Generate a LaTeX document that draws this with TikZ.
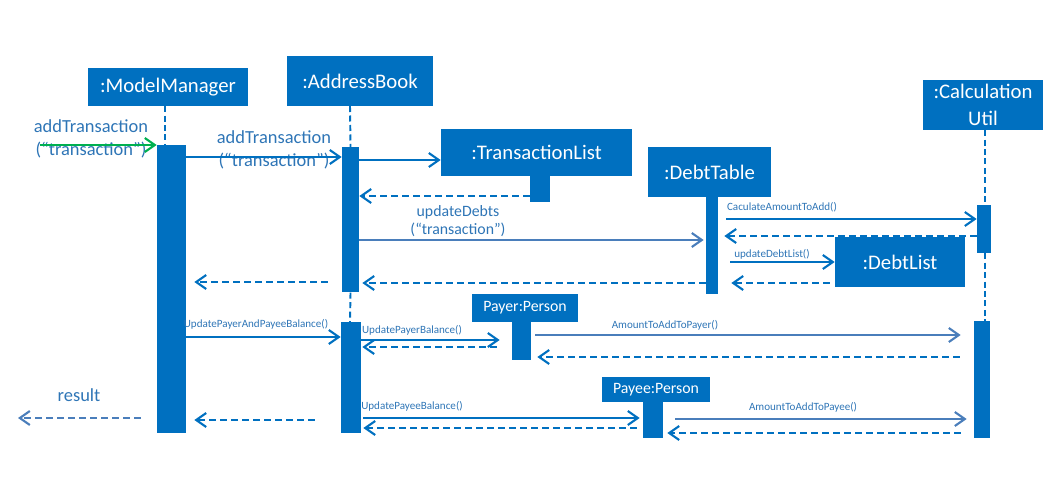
\documentclass[tikz,border=0pt]{standalone}
\usepackage{fontspec}
\setmainfont{Carlito}
\usetikzlibrary{arrows.meta}
\definecolor{boxblue}{RGB}{0,112,192}
\definecolor{txtblue}{RGB}{46,117,182}
\definecolor{lightblue}{RGB}{74,126,187}
\definecolor{callgreen}{RGB}{0,176,80}
\begin{document}
\begin{tikzpicture}[x=0.02cm,y=-0.02cm,
	obj/.style={fill=boxblue,text=white,inner sep=0pt,align=center,
		font=\fontsize{11.8}{15}\selectfont},
	pobj/.style={obj,font=\fontsize{9}{11}\selectfont},
	bar/.style={fill=boxblue,inner sep=0pt,anchor=north},
	life/.style={boxblue,line width=1.1pt,dash pattern=on 1.2mm off 0.7mm},
	call/.style={boxblue,line width=1.2pt,arrows={-{Straight Barb[length=2mm,width=2.8mm]}}},
	lcall/.style={call,lightblue},
	ret/.style={call,dash pattern=on 1.4mm off 0.8mm},
	lret/.style={ret,lightblue},
	msg/.style={text=txtblue,align=center,inner sep=0pt,
		font=\fontsize{10.5}{13}\selectfont},
	mmsg/.style={msg,font=\fontsize{9}{10.2}\selectfont},
	smsg/.style={msg,font=\fontsize{6.3}{7}\selectfont}]
	\useasboundingbox (0,0) rectangle (1050,494);

	% objects
	\node[obj,minimum width=3.2cm,minimum height=0.76cm] (mm) at (168,87) {:ModelManager};
	\node[obj,minimum width=2.92cm,minimum height=1cm] (ab) at (360,81) {:AddressBook};
	\node[obj,minimum width=3.82cm,minimum height=0.94cm] (tl) at (536.5,152.5) {:TransactionList};
	\node[obj,minimum width=2.46cm,minimum height=1cm] (dt) at (709.5,172) {:DebtTable};
	\node[obj,minimum width=2.4cm,minimum height=1cm] (cu) at (983,105) {:Calculation\\Util};
	\node[obj,minimum width=2.6cm,minimum height=1cm] (dl) at (900,262) {:DebtList};
	\node[pobj,minimum width=2.12cm,minimum height=0.56cm] (payer) at (525,308) {Payer:Person};
	\node[pobj,minimum width=2.16cm,minimum height=0.5cm] (payee) at (656,389.5) {Payee:Person};

	% activation bars
	\node[bar,minimum width=0.58cm,minimum height=5.76cm] (mmbar) at (171.5,145) {};
	\node[bar,minimum width=0.34cm,minimum height=2.9cm] (abbar1) at (350.5,147) {};
	\node[bar,minimum width=0.4cm,minimum height=2.22cm] (abbar2) at (351,322) {};
	\node[bar,minimum width=0.4cm,minimum height=0.52cm] (tlbar) at (540,176) {};
	\node[bar,minimum width=0.24cm,minimum height=1.94cm] (dtbar) at (712,197) {};
	\node[bar,minimum width=0.28cm,minimum height=0.96cm] (cubar1) at (984,205) {};
	\node[bar,minimum width=0.32cm,minimum height=2.34cm] (cubar2) at (982,321) {};
	\node[bar,minimum width=0.38cm,minimum height=0.76cm] (payerbar) at (521.5,322) {};
	\node[bar,minimum width=0.4cm,minimum height=0.72cm] (payeebar) at (653,402) {};

	% lifelines
	\draw[life] (165,106) -- (165,145);
	\draw[life] (350,106) -- (abbar1.north);
	\draw[life] (abbar1.south) -- (350,322);
	\draw[life] (985,130) -- (985,205);
	\draw[life] (985,253) -- (985,321);

	% addTransaction
	\coordinate (in) at (40,145);
	\node[msg] (m1) at (91,138.5) {addTransaction\\(“transaction”)};
	\draw[call,callgreen] (in) -- (in -| mmbar.west);
	\node[msg] (m2) at (274,149.5) {addTransaction\\(“transaction”)};
	\draw[call] (mmbar.east |- 0,157) -- (abbar1.west |- 0,157);
	\draw[call] (abbar1.east |- 0,160) -- (tl.west |- 0,160);
	\draw[ret] (tlbar.west |- 0,196) -- (abbar1.east |- 0,196);

	% updateDebts
	\node[mmsg] (m3) at (458,221) {updateDebts\\(“transaction”)};
	\draw[lcall,shorten >=0.4mm] (abbar1.east |- 0,240) -- (dtbar.west |- 0,240);
	\node[smsg] (m4) at (782,207) {CaculateAmountToAdd()};
	\draw[call,shorten <=1.6mm] (dtbar.east |- 0,219) -- (cubar1.west |- 0,219);
	\draw[ret,shorten >=1.2mm] (cubar1.west |- 0,236) -- (dtbar.east |- 0,236);
	\node[smsg] (m5) at (772,254) {updateDebtList()};
	\draw[call,shorten <=2.4mm] (dtbar.east |- 0,262) -- (dl.west |- 0,262);
	\draw[ret,shorten <=1mm,shorten >=2.6mm] (dl.west |- 0,283) -- (dtbar.east |- 0,283);
	\draw[ret,shorten >=0.6mm] (dtbar.west |- 0,283) -- (abbar1.east |- 0,283);
	\draw[ret,shorten <=2.8mm,shorten >=1.6mm] (abbar1.west |- 0,282) -- (mmbar.east |- 0,282);

	% balances
	\node[smsg] (m6) at (256,324) {UpdatePayerAndPayeeBalance()};
	\draw[call] (mmbar.east |- 0,337) -- (abbar2.west |- 0,337);
	\node[smsg] (m7) at (412,330) {UpdatePayerBalance()};
	\draw[call,shorten >=2.4mm] (abbar2.east |- 0,340) -- (payerbar.west |- 0,340);
	\draw[ret,shorten <=3mm,shorten >=0.2mm] (payerbar.west |- 0,347) -- (abbar2.east |- 0,347);
	\node[smsg] (m8) at (665,325) {AmountToAddToPayer()};
	\draw[lcall,shorten <=0.8mm,shorten >=2.6mm] (payerbar.east |- 0,335) -- (cubar2.west |- 0,335);
	\draw[ret,shorten <=2.8mm,shorten >=1.2mm] (cubar2.west |- 0,357) -- (payerbar.east |- 0,357);

	\coordinate (out) at (18,418);
	\node[msg] (m9) at (79,395) {result};
	\draw[lret,shorten <=3.2mm] (mmbar.west |- out) -- (out);
	\draw[ret,shorten <=5.2mm,shorten >=1.6mm] (abbar2.west |- 0,420) -- (mmbar.east |- 0,420);
	\node[smsg] (m10) at (412,406) {UpdatePayeeBalance()};
	\draw[call,shorten <=0.4mm,shorten >=0.6mm] (abbar2.east |- 0,418) -- (payeebar.west |- 0,418);
	\draw[ret,shorten <=1.2mm,shorten >=0.4mm] (payeebar.west |- 0,428) -- (abbar2.east |- 0,428);
	\node[smsg] (m11) at (803,407) {AmountToAddToPayee()};
	\draw[lcall,shorten <=2.4mm,shorten >=1.4mm] (payeebar.east |- 0,419) -- (cubar2.west |- 0,419);
	\draw[ret,shorten <=2.6mm,shorten >=0.8mm] (cubar2.west |- 0,433) -- (payeebar.east |- 0,433);
\end{tikzpicture}
\end{document}
